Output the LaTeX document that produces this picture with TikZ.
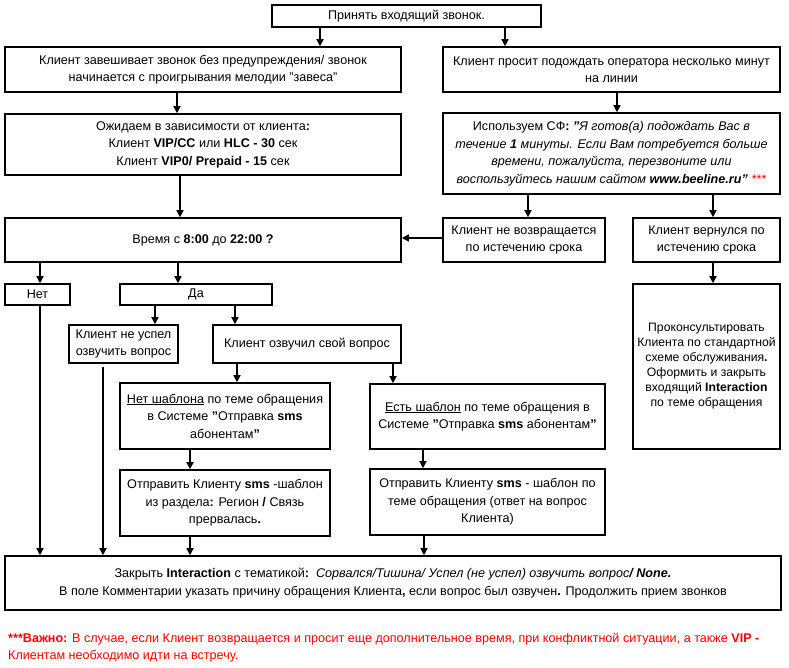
\documentclass[tikz,border=0pt]{standalone}
\usepackage{fontspec}
\setmainfont{Liberation Sans}
\usetikzlibrary{arrows.meta}
\begin{document}
\begin{tikzpicture}[x=1pt,y=-1pt,
  box/.style={draw,line width=1.6pt,align=center,inner sep=2pt,font=\fontsize{12.6}{17.5}\selectfont},
  tight/.style={font=\fontsize{12.2}{15}\selectfont},
  arr/.style={line width=1.5pt,-{Triangle[length=7pt,width=7pt]}}]
\fill[white] (0,0) rectangle (789,668);
\useasboundingbox (0,0) rectangle (789,668);
% boxes
\node[box,minimum width=269pt,minimum height=22pt] (start) at (406.5,16) {Принять входящий звонок.};
\node[box,minimum width=396pt,minimum height=45pt] (hang) at (203,69.5) {Клиент завешивает звонок без предупреждения/ звонок\\начинается с проигрывания мелодии "завеса"};
\node[box,minimum width=337pt,minimum height=45pt] (ask) at (611.5,69.5) {Клиент просит подождать оператора несколько минут\\на линии};
\node[box,minimum width=396pt,minimum height=61pt] (wait) at (203,144.5) {Ожидаем в зависимости от клиента\textbf{:}\\Клиент \textbf{VIP/CC} или \textbf{HLC - 30} сек\\Клиент \textbf{VIP0/ Prepaid - 15} сек};
\node[box,minimum width=337pt,minimum height=81pt] (sf) at (611.5,153.5) {Используем СФ\textbf{:} \textit{\textbf{"}Я готов(а) подождать Вас в}\\\textit{течение \textbf{1} минуты. Если Вам потребуется больше}\\\textit{времени, пожалуйста, перезвоните или}\\\textit{воспользуйтесь нашим сайтом \textbf{www.beeline.ru"}} \textcolor{red}{\textit{***}}};
\node[box,minimum width=396pt,minimum height=44pt] (time) at (203,240) {Время с \textbf{8:00} до \textbf{22:00 ?}};
\node[box,minimum width=162pt,minimum height=44pt] (noret) at (524,240) {Клиент не возвращается\\по истечению срока};
\node[box,minimum width=147pt,minimum height=44pt] (ret) at (706.5,240) {Клиент вернулся по\\истечению срока};
\node[box,tight,minimum width=147pt,minimum height=165pt] (consult) at (706.5,366.5) {Проконсультировать\\Клиента по стандартной\\схеме обслуживания\textbf{.}\\Оформить и закрыть\\входящий \textbf{Interaction}\\по теме обращения};
\node[box,minimum width=65pt,minimum height=21pt] (no) at (37.5,294.5) {Нет};
\node[box,minimum width=152pt,minimum height=21pt] (yes) at (196,294.5) {Да};
\node[box,minimum width=109pt,minimum height=38pt] (notq) at (123.5,344) {Клиент не успел\\озвучить вопрос};
\node[box,minimum width=188pt,minimum height=38pt] (q) at (307,344) {Клиент озвучил свой вопрос};
\node[box,minimum width=210pt,minimum height=66pt] (notpl) at (225,416) {\underline{Нет шаблона} по теме обращения\\в Системе \textbf{"}Отправка \textbf{sms}\\абонентам\textbf{"}};
\node[box,minimum width=235pt,minimum height=65pt] (tpl) at (487.5,416.5) {\underline{Есть шаблон} по теме обращения в\\Системе \textbf{"}Отправка \textbf{sms} абонентам\textbf{"}};
\node[box,minimum width=210pt,minimum height=66pt] (send1) at (225,503) {Отправить Клиенту \textbf{sms} -шаблон\\из раздела\textbf{:} Регион \textbf{/} Связь\\прервалась\textbf{.}};
\node[box,minimum width=235pt,minimum height=66pt] (send2) at (487.5,502) {Отправить Клиенту \textbf{sms} - шаблон по\\теме обращения (ответ на вопрос\\Клиента)};
\node[box,minimum width=776pt,minimum height=54pt] (close) at (393,583) {Закрыть \textbf{Interaction} с тематикой\textbf{:}\ \ \textit{Сорвался/Тишина/ Успел (не успел) озвучить вопрос\textbf{/ None.}}\\В поле Комментарии указать причину обращения Клиента\textbf{,} если вопрос был озвучен\textbf{.} Продолжить прием звонков};
\node[anchor=north west,align=left,text=red,inner sep=0pt,font=\fontsize{12.6}{17}\selectfont] (note) at (8,633) {\textbf{***Важно:} В случае, если Клиент возвращается и просит еще дополнительное время, при конфликтной ситуации, а также \textbf{VIP -}\\Клиентам необходимо идти на встречу.};
% connectors
\draw[arr] (start.south -| 320,0) -- (hang.north -| 320,0);
\draw[arr] (start.south -| 505,0) -- (ask.north -| 505,0);
\draw[arr] (hang.south -| 177,0) -- (wait.north -| 177,0);
\draw[arr] (ask.south -| 617,0) -- (sf.north -| 617,0);
\draw[arr] (wait.south -| 180,0) -- (time.north -| 180,0);
\draw[arr] (sf.south -| 528,0) -- (noret.north -| 528,0);
\draw[arr] (sf.south -| 713,0) -- (ret.north -| 713,0);
\draw[arr] (noret.west |- 0,238) -- (time.east |- 0,238);
\draw[arr] (ret.south -| 713,0) -- (consult.north -| 713,0);
\draw[arr] (time.south -| 40,0) -- (no.north -| 40,0);
\draw[arr] (time.south -| 178,0) -- (yes.north -| 178,0);
\draw[arr] (yes.south -| 155,0) -- (notq.north -| 155,0);
\draw[arr] (yes.south -| 235,0) -- (q.north -| 235,0);
\draw[arr] (q.south -| 237,0) -- (notpl.north -| 237,0);
\draw[arr] (q.south -| 393,0) -- (tpl.north -| 393,0);
\draw[arr] (notpl.south -| 190,0) -- (send1.north -| 190,0);
\draw[arr] (tpl.south -| 423,0) -- (send2.north -| 423,0);
\draw[arr] (send1.south -| 190,0) -- (close.north -| 190,0);
\draw[arr] (send2.south -| 424,0) -- (close.north -| 424,0);
\draw[arr] (no.south -| 40,0) -- (close.north -| 40,0);
\coordinate (notqout) at (103,367);
\draw[arr] (notqout) -- (close.north -| notqout);
\end{tikzpicture}
\end{document}
